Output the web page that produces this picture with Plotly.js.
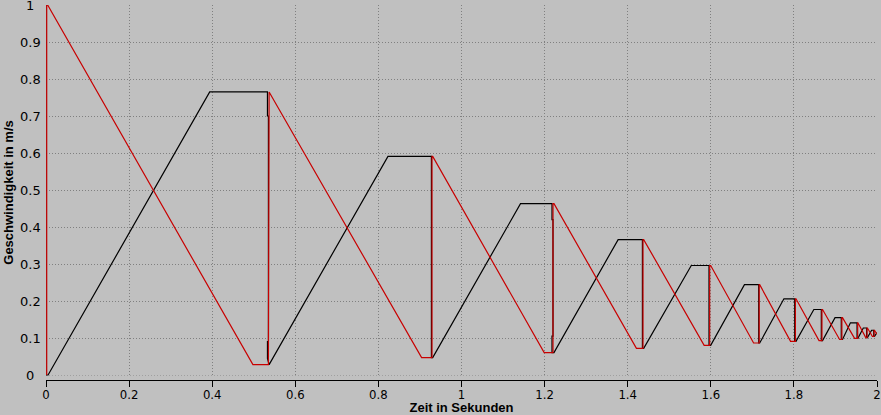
<!DOCTYPE html>
<html>
<head>
<meta charset="utf-8">
<script src="https://cdn.plot.ly/plotly-3.0.1.min.js"></script>
<style>
  html, body { margin: 0; padding: 0; background: #c0c0c0; }
  #chart { width: 881px; height: 415px; }
</style>
</head>
<body>
<div id="chart"></div>
<script>
// ---- data ----
const xTickVals = [0, 0.2, 0.4, 0.6, 0.8, 1, 1.2, 1.4, 1.6, 1.8, 2];
const xTickLabels = ['0', '0.2', '0.4', '0.6', '0.8', '1', '1.2', '1.4', '1.6', '1.8', '2'];
const yTickVals = [0, 0.1, 0.2, 0.3, 0.4, 0.5, 0.6, 0.7, 0.8, 0.9, 1];
const yTickLabels = ['0', '0.1', '0.2', '0.3', '0.4', '0.5', '0.6', '0.7', '0.8', '0.9', '1'];

const xTitle = 'Zeit in Sekunden';
const yTitle = 'Geschwindigkeit in m/s';

// black series: time (s)
const blackT = [
  0, 0, 0.0017, 0.0017, 0, 0, 0.005,
  0.394, 0.533, 0.533, 0.5353, 0.5353, 0.533, 0.533, 0.537,
  0.823, 0.9276, 0.9276, 0.929, 0.929, 0.9276, 0.9276, 0.9307,
  1.142, 1.2178, 1.2178, 1.2202, 1.2202, 1.2178, 1.2178, 1.2226,
  1.377, 1.4354, 1.4354, 1.4368, 1.4368, 1.4354, 1.4354, 1.4385,
  1.553, 1.5957, 1.5957, 1.5973, 1.5973, 1.5957, 1.5957, 1.5997,
  1.681, 1.7153, 1.7153, 1.7165, 1.7165, 1.7153, 1.7153, 1.7177,
  1.776, 1.8019, 1.8019, 1.8036, 1.8036, 1.8019, 1.8019, 1.805,
  1.848, 1.866, 1.866, 1.8675, 1.8675, 1.866, 1.866, 1.869,
  1.899, 1.914, 1.914, 1.9155, 1.9155, 1.914, 1.914, 1.917,
  1.936, 1.952, 1.952, 1.9535, 1.9535, 1.952, 1.952, 1.954,
  1.967, 1.975, 1.975, 1.977,
  1.987, 1.992, 1.992, 1.994,
  2.0
];
// black series: speed (m/s)
const blackV = [
  1.0, 0.72, 0.72, 0.28, 0.28, 0.0, 0.0,
  0.765, 0.765, 0.70, 0.70, 0.09, 0.09, 0.045, 0.028,
  0.591, 0.591, 0.43, 0.43, 0.206, 0.206, 0.047, 0.047,
  0.463, 0.463, 0.42, 0.42, 0.105, 0.105, 0.0605, 0.0605,
  0.366, 0.366, 0.262, 0.262, 0.175, 0.175, 0.072, 0.072,
  0.296, 0.296, 0.283, 0.283, 0.101, 0.101, 0.080, 0.080,
  0.244, 0.244, 0.211, 0.211, 0.121, 0.121, 0.0865, 0.0865,
  0.206, 0.206, 0.168, 0.168, 0.13, 0.13, 0.091, 0.091,
  0.177, 0.177, 0.15, 0.15, 0.11, 0.11, 0.093, 0.093,
  0.155, 0.155, 0.135, 0.135, 0.11, 0.11, 0.096, 0.096,
  0.141, 0.141, 0.125, 0.125, 0.11, 0.11, 0.099, 0.099,
  0.127, 0.127, 0.101, 0.101,
  0.121, 0.121, 0.104, 0.104,
  0.115
];

// red series: time (s)
const redT = [
  0.0017, 0.0017, 0.004,
  0.498, 0.5353, 0.5353, 0.537,
  0.904, 0.929, 0.929, 0.9307,
  1.199, 1.2202, 1.2202, 1.2226,
  1.421, 1.4368, 1.4368, 1.4385,
  1.584, 1.5973, 1.5973, 1.5997,
  1.703, 1.7165, 1.7165, 1.7177,
  1.792, 1.8036, 1.8036, 1.805,
  1.8605, 1.8675, 1.8675, 1.869,
  1.910, 1.9155, 1.9155, 1.917,
  1.946, 1.9535, 1.9535, 1.954,
  1.973, 1.976, 1.976, 1.977,
  1.989, 1.993, 1.993, 1.994,
  2.0
];
// red series: speed (m/s)
const redV = [
  0.0, 1.0, 1.0,
  0.028, 0.028, 0.745, 0.765,
  0.047, 0.047, 0.591, 0.591,
  0.0605, 0.0605, 0.463, 0.463,
  0.072, 0.072, 0.366, 0.366,
  0.080, 0.080, 0.296, 0.296,
  0.0865, 0.0865, 0.244, 0.244,
  0.091, 0.091, 0.206, 0.206,
  0.093, 0.093, 0.177, 0.177,
  0.096, 0.096, 0.155, 0.155,
  0.099, 0.099, 0.141, 0.141,
  0.101, 0.101, 0.127, 0.127,
  0.104, 0.104, 0.121, 0.121,
  0.110
];

// ---- chart ----
const bg = '#c0c0c0';
const gridColor = '#808080';

const traces = [
  { x: blackT, y: blackV, type: 'scatter', mode: 'lines', name: 'schwarz',
    line: { color: '#000000', width: 1.2 }, hoverinfo: 'skip' },
  { x: redT, y: redV, type: 'scatter', mode: 'lines', name: 'rot',
    line: { color: '#c80000', width: 1.2 }, hoverinfo: 'skip' }
];

const yLabelAnnotations = yTickVals.map((v, i) => ({
  xref: 'paper', yref: 'y', x: 0, y: v, xshift: -16,
  xanchor: 'center', yanchor: 'middle', showarrow: false,
  text: yTickLabels[i],
  font: { family: 'DejaVu Sans, Verdana, sans-serif', size: 13, color: '#000' }
}));

const layout = {
  width: 881, height: 415,
  margin: { l: 46, r: 4, t: 5, b: 35, pad: 0 },
  paper_bgcolor: bg, plot_bgcolor: bg,
  showlegend: false,
  xaxis: {
    range: [0, 2],
    tickmode: 'array', tickvals: xTickVals, ticktext: xTickLabels,
    showgrid: true, gridcolor: gridColor, gridwidth: 1, griddash: '1px,2px',
    zeroline: false,
    showline: true, linecolor: '#000', linewidth: 1,
    ticks: 'outside', ticklen: 6, tickcolor: '#000', tickwidth: 1,
    ticklabelstandoff: -4,
    tickfont: { family: 'Liberation Sans Narrow, DejaVu Sans Condensed, Arial Narrow, sans-serif', size: 13, color: '#000' },
    title: { text: xTitle, standoff: 8,
      font: { family: 'Liberation Sans, Arial, sans-serif', size: 13, color: '#000', weight: 'bold' } }
  },
  yaxis: {
    range: [-0.0135, 1.0],
    tickmode: 'array', tickvals: yTickVals, ticktext: yTickLabels,
    showticklabels: false,
    showgrid: true, gridcolor: gridColor, gridwidth: 1, griddash: '1px,2px',
    zeroline: false, showline: false, ticks: '',
    title: { text: yTitle, standoff: 28,
      font: { family: 'Liberation Sans, Arial, sans-serif', size: 13, color: '#000', weight: 'bold' } }
  },
  shapes: [
    { type: 'rect', xref: 'x', yref: 'y', x0: -0.01, x1: 2.01, y0: -0.02, y1: -0.0015,
      fillcolor: bg, line: { width: 0 }, layer: 'between' }
  ],
  annotations: yLabelAnnotations
};

Plotly.newPlot('chart', traces, layout, { displayModeBar: false, staticPlot: true });
</script>
</body>
</html>
